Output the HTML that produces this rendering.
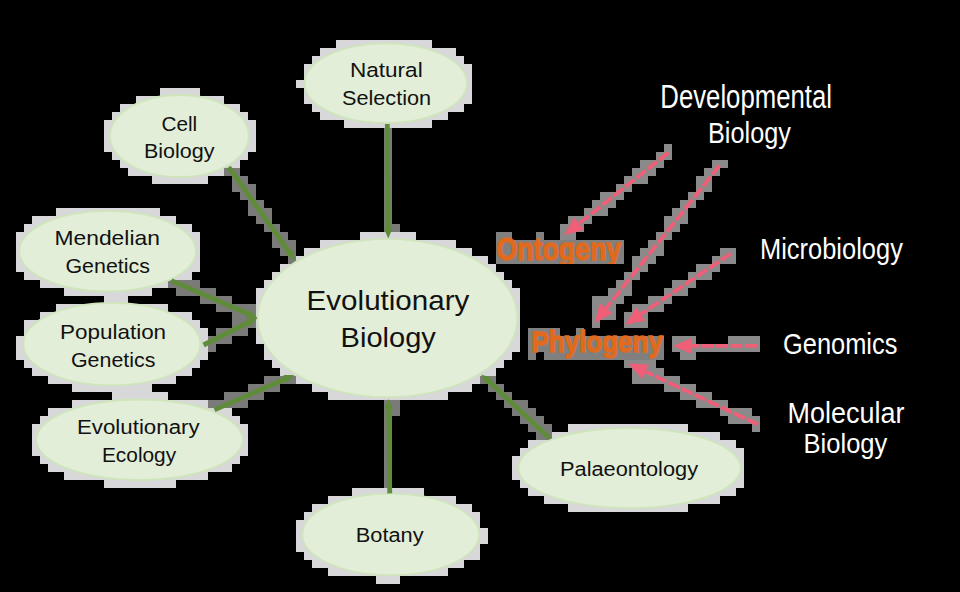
<!DOCTYPE html>
<html><head><meta charset="utf-8"><style>
html,body{margin:0;padding:0;background:#000;width:960px;height:592px;overflow:hidden}
svg{display:block;font-family:"Liberation Sans",sans-serif}
</style></head><body>
<svg width="960" height="592" viewBox="0 0 960 592">
<g shape-rendering="crispEdges"><rect x="336" y="40" width="96" height="8" fill="#d8d8da"/><rect x="320" y="48" width="136" height="8" fill="#d8d8da"/><rect x="312" y="56" width="152" height="8" fill="#d8d8da"/><rect x="304" y="64" width="168" height="8" fill="#d8d8da"/><rect x="304" y="72" width="168" height="8" fill="#d8d8da"/><rect x="296" y="80" width="176" height="8" fill="#d8d8da"/><rect x="160" y="88" width="40" height="8" fill="#d8d8da"/><rect x="304" y="88" width="168" height="8" fill="#d8d8da"/><rect x="136" y="96" width="88" height="8" fill="#d8d8da"/><rect x="304" y="96" width="168" height="8" fill="#d8d8da"/><rect x="120" y="104" width="120" height="8" fill="#d8d8da"/><rect x="312" y="104" width="152" height="8" fill="#d8d8da"/><rect x="112" y="112" width="136" height="8" fill="#d8d8da"/><rect x="320" y="112" width="128" height="8" fill="#d8d8da"/><rect x="104" y="120" width="152" height="8" fill="#d8d8da"/><rect x="344" y="120" width="88" height="8" fill="#d8d8da"/><rect x="104" y="128" width="152" height="8" fill="#d8d8da"/><rect x="384" y="128" width="8" height="8" fill="#7a7a78"/><rect x="104" y="136" width="152" height="8" fill="#d8d8da"/><rect x="384" y="136" width="8" height="8" fill="#7a7a78"/><rect x="104" y="144" width="152" height="8" fill="#d8d8da"/><rect x="384" y="144" width="8" height="8" fill="#7a7a78"/><rect x="664" y="144" width="8" height="8" fill="#8a8a8a"/><rect x="112" y="152" width="136" height="8" fill="#d8d8da"/><rect x="384" y="152" width="8" height="8" fill="#7a7a78"/><rect x="656" y="152" width="16" height="8" fill="#8a8a8a"/><rect x="120" y="160" width="120" height="8" fill="#d8d8da"/><rect x="384" y="160" width="8" height="8" fill="#7a7a78"/><rect x="640" y="160" width="24" height="8" fill="#8a8a8a"/><rect x="712" y="160" width="16" height="8" fill="#8a8a8a"/><rect x="128" y="168" width="96" height="8" fill="#d8d8da"/><rect x="224" y="168" width="16" height="8" fill="#7a7a78"/><rect x="384" y="168" width="8" height="8" fill="#7a7a78"/><rect x="632" y="168" width="24" height="8" fill="#8a8a8a"/><rect x="704" y="168" width="16" height="8" fill="#8a8a8a"/><rect x="152" y="176" width="56" height="8" fill="#d8d8da"/><rect x="232" y="176" width="16" height="8" fill="#7a7a78"/><rect x="384" y="176" width="8" height="8" fill="#7a7a78"/><rect x="624" y="176" width="24" height="8" fill="#8a8a8a"/><rect x="696" y="176" width="16" height="8" fill="#8a8a8a"/><rect x="232" y="184" width="24" height="8" fill="#7a7a78"/><rect x="384" y="184" width="8" height="8" fill="#7a7a78"/><rect x="616" y="184" width="16" height="8" fill="#8a8a8a"/><rect x="696" y="184" width="16" height="8" fill="#8a8a8a"/><rect x="240" y="192" width="16" height="8" fill="#7a7a78"/><rect x="384" y="192" width="8" height="8" fill="#7a7a78"/><rect x="600" y="192" width="24" height="8" fill="#8a8a8a"/><rect x="688" y="192" width="16" height="8" fill="#8a8a8a"/><rect x="248" y="200" width="16" height="8" fill="#7a7a78"/><rect x="384" y="200" width="8" height="8" fill="#7a7a78"/><rect x="592" y="200" width="24" height="8" fill="#8a8a8a"/><rect x="680" y="200" width="16" height="8" fill="#8a8a8a"/><rect x="56" y="208" width="104" height="8" fill="#d8d8da"/><rect x="248" y="208" width="24" height="8" fill="#7a7a78"/><rect x="384" y="208" width="8" height="8" fill="#7a7a78"/><rect x="584" y="208" width="24" height="8" fill="#8a8a8a"/><rect x="672" y="208" width="16" height="8" fill="#8a8a8a"/><rect x="32" y="216" width="144" height="8" fill="#d8d8da"/><rect x="256" y="216" width="16" height="8" fill="#7a7a78"/><rect x="384" y="216" width="8" height="8" fill="#7a7a78"/><rect x="568" y="216" width="24" height="8" fill="#8a8a8a"/><rect x="664" y="216" width="24" height="8" fill="#8a8a8a"/><rect x="24" y="224" width="168" height="8" fill="#d8d8da"/><rect x="264" y="224" width="16" height="8" fill="#7a7a78"/><rect x="384" y="224" width="16" height="8" fill="#7a7a78"/><rect x="560" y="224" width="24" height="8" fill="#8a8a8a"/><rect x="664" y="224" width="16" height="8" fill="#8a8a8a"/><rect x="16" y="232" width="184" height="8" fill="#d8d8da"/><rect x="272" y="232" width="16" height="8" fill="#7a7a78"/><rect x="360" y="232" width="56" height="8" fill="#d8d8da"/><rect x="496" y="232" width="16" height="8" fill="#808080"/><rect x="536" y="232" width="8" height="8" fill="#808080"/><rect x="560" y="232" width="16" height="8" fill="#8a8a8a"/><rect x="656" y="232" width="16" height="8" fill="#8a8a8a"/><rect x="16" y="240" width="184" height="8" fill="#d8d8da"/><rect x="272" y="240" width="24" height="8" fill="#7a7a78"/><rect x="320" y="240" width="136" height="8" fill="#d8d8da"/><rect x="496" y="240" width="128" height="8" fill="#808080"/><rect x="648" y="240" width="16" height="8" fill="#8a8a8a"/><rect x="16" y="248" width="184" height="8" fill="#d8d8da"/><rect x="280" y="248" width="16" height="8" fill="#7a7a78"/><rect x="304" y="248" width="168" height="8" fill="#d8d8da"/><rect x="496" y="248" width="128" height="8" fill="#808080"/><rect x="640" y="248" width="24" height="8" fill="#8a8a8a"/><rect x="720" y="248" width="16" height="8" fill="#8a8a8a"/><rect x="16" y="256" width="184" height="8" fill="#d8d8da"/><rect x="288" y="256" width="8" height="8" fill="#7a7a78"/><rect x="296" y="256" width="192" height="8" fill="#d8d8da"/><rect x="496" y="256" width="128" height="8" fill="#808080"/><rect x="632" y="256" width="24" height="8" fill="#8a8a8a"/><rect x="712" y="256" width="24" height="8" fill="#8a8a8a"/><rect x="16" y="264" width="184" height="8" fill="#d8d8da"/><rect x="280" y="264" width="216" height="8" fill="#d8d8da"/><rect x="632" y="264" width="16" height="8" fill="#8a8a8a"/><rect x="696" y="264" width="24" height="8" fill="#8a8a8a"/><rect x="24" y="272" width="168" height="8" fill="#d8d8da"/><rect x="272" y="272" width="232" height="8" fill="#d8d8da"/><rect x="624" y="272" width="16" height="8" fill="#8a8a8a"/><rect x="688" y="272" width="24" height="8" fill="#8a8a8a"/><rect x="40" y="280" width="128" height="8" fill="#d8d8da"/><rect x="168" y="280" width="32" height="8" fill="#7a7a78"/><rect x="264" y="280" width="248" height="8" fill="#d8d8da"/><rect x="616" y="280" width="16" height="8" fill="#8a8a8a"/><rect x="672" y="280" width="24" height="8" fill="#8a8a8a"/><rect x="64" y="288" width="88" height="8" fill="#d8d8da"/><rect x="176" y="288" width="40" height="8" fill="#7a7a78"/><rect x="256" y="288" width="264" height="8" fill="#d8d8da"/><rect x="608" y="288" width="24" height="8" fill="#8a8a8a"/><rect x="664" y="288" width="24" height="8" fill="#8a8a8a"/><rect x="104" y="296" width="24" height="8" fill="#d8d8da"/><rect x="200" y="296" width="32" height="8" fill="#7a7a78"/><rect x="256" y="296" width="264" height="8" fill="#d8d8da"/><rect x="592" y="296" width="32" height="8" fill="#8a8a8a"/><rect x="648" y="296" width="24" height="8" fill="#8a8a8a"/><rect x="56" y="304" width="112" height="8" fill="#d8d8da"/><rect x="216" y="304" width="40" height="8" fill="#7a7a78"/><rect x="256" y="304" width="264" height="8" fill="#d8d8da"/><rect x="592" y="304" width="24" height="8" fill="#8a8a8a"/><rect x="632" y="304" width="32" height="8" fill="#8a8a8a"/><rect x="40" y="312" width="152" height="8" fill="#d8d8da"/><rect x="232" y="312" width="24" height="8" fill="#7a7a78"/><rect x="256" y="312" width="264" height="8" fill="#d8d8da"/><rect x="592" y="312" width="24" height="8" fill="#8a8a8a"/><rect x="624" y="312" width="24" height="8" fill="#8a8a8a"/><rect x="24" y="320" width="176" height="8" fill="#d8d8da"/><rect x="232" y="320" width="24" height="8" fill="#7a7a78"/><rect x="256" y="320" width="264" height="8" fill="#d8d8da"/><rect x="592" y="320" width="8" height="8" fill="#8a8a8a"/><rect x="624" y="320" width="24" height="8" fill="#8a8a8a"/><rect x="24" y="328" width="184" height="8" fill="#d8d8da"/><rect x="216" y="328" width="32" height="8" fill="#7a7a78"/><rect x="256" y="328" width="264" height="8" fill="#d8d8da"/><rect x="528" y="328" width="32" height="8" fill="#808080"/><rect x="576" y="328" width="8" height="8" fill="#808080"/><rect x="16" y="336" width="192" height="8" fill="#d8d8da"/><rect x="208" y="336" width="24" height="8" fill="#7a7a78"/><rect x="256" y="336" width="264" height="8" fill="#d8d8da"/><rect x="528" y="336" width="136" height="8" fill="#808080"/><rect x="672" y="336" width="24" height="8" fill="#8a8a8a"/><rect x="728" y="336" width="32" height="8" fill="#8a8a8a"/><rect x="16" y="344" width="192" height="8" fill="#d8d8da"/><rect x="208" y="344" width="8" height="8" fill="#7a7a78"/><rect x="264" y="344" width="256" height="8" fill="#d8d8da"/><rect x="528" y="344" width="136" height="8" fill="#808080"/><rect x="672" y="344" width="88" height="8" fill="#8a8a8a"/><rect x="16" y="352" width="192" height="8" fill="#d8d8da"/><rect x="264" y="352" width="248" height="8" fill="#d8d8da"/><rect x="528" y="352" width="8" height="8" fill="#808080"/><rect x="544" y="352" width="120" height="8" fill="#808080"/><rect x="680" y="352" width="16" height="8" fill="#8a8a8a"/><rect x="24" y="360" width="176" height="8" fill="#d8d8da"/><rect x="272" y="360" width="232" height="8" fill="#d8d8da"/><rect x="624" y="360" width="32" height="8" fill="#8a8a8a"/><rect x="32" y="368" width="160" height="8" fill="#d8d8da"/><rect x="280" y="368" width="216" height="8" fill="#d8d8da"/><rect x="632" y="368" width="32" height="8" fill="#8a8a8a"/><rect x="48" y="376" width="128" height="8" fill="#d8d8da"/><rect x="264" y="376" width="32" height="8" fill="#7a7a78"/><rect x="296" y="376" width="184" height="8" fill="#d8d8da"/><rect x="480" y="376" width="16" height="8" fill="#7a7a78"/><rect x="632" y="376" width="48" height="8" fill="#8a8a8a"/><rect x="72" y="384" width="80" height="8" fill="#d8d8da"/><rect x="248" y="384" width="32" height="8" fill="#7a7a78"/><rect x="312" y="384" width="160" height="8" fill="#d8d8da"/><rect x="488" y="384" width="16" height="8" fill="#7a7a78"/><rect x="664" y="384" width="32" height="8" fill="#8a8a8a"/><rect x="112" y="392" width="56" height="8" fill="#d8d8da"/><rect x="224" y="392" width="40" height="8" fill="#7a7a78"/><rect x="328" y="392" width="120" height="8" fill="#d8d8da"/><rect x="496" y="392" width="16" height="8" fill="#7a7a78"/><rect x="680" y="392" width="32" height="8" fill="#8a8a8a"/><rect x="72" y="400" width="136" height="8" fill="#d8d8da"/><rect x="208" y="400" width="40" height="8" fill="#7a7a78"/><rect x="384" y="400" width="16" height="8" fill="#7a7a78"/><rect x="504" y="400" width="24" height="8" fill="#7a7a78"/><rect x="696" y="400" width="32" height="8" fill="#8a8a8a"/><rect x="48" y="408" width="184" height="8" fill="#d8d8da"/><rect x="384" y="408" width="16" height="8" fill="#7a7a78"/><rect x="512" y="408" width="24" height="8" fill="#7a7a78"/><rect x="720" y="408" width="32" height="8" fill="#8a8a8a"/><rect x="40" y="416" width="200" height="8" fill="#d8d8da"/><rect x="384" y="416" width="8" height="8" fill="#7a7a78"/><rect x="520" y="416" width="24" height="8" fill="#7a7a78"/><rect x="728" y="416" width="32" height="8" fill="#8a8a8a"/><rect x="32" y="424" width="216" height="8" fill="#d8d8da"/><rect x="384" y="424" width="8" height="8" fill="#7a7a78"/><rect x="528" y="424" width="24" height="8" fill="#7a7a78"/><rect x="568" y="424" width="120" height="8" fill="#d8d8da"/><rect x="752" y="424" width="8" height="8" fill="#8a8a8a"/><rect x="32" y="432" width="216" height="8" fill="#d8d8da"/><rect x="384" y="432" width="8" height="8" fill="#7a7a78"/><rect x="536" y="432" width="16" height="8" fill="#7a7a78"/><rect x="552" y="432" width="168" height="8" fill="#d8d8da"/><rect x="32" y="440" width="216" height="8" fill="#d8d8da"/><rect x="384" y="440" width="8" height="8" fill="#7a7a78"/><rect x="528" y="440" width="208" height="8" fill="#d8d8da"/><rect x="32" y="448" width="216" height="8" fill="#d8d8da"/><rect x="384" y="448" width="8" height="8" fill="#7a7a78"/><rect x="520" y="448" width="224" height="8" fill="#d8d8da"/><rect x="40" y="456" width="200" height="8" fill="#d8d8da"/><rect x="384" y="456" width="8" height="8" fill="#7a7a78"/><rect x="512" y="456" width="232" height="8" fill="#d8d8da"/><rect x="48" y="464" width="184" height="8" fill="#d8d8da"/><rect x="384" y="464" width="8" height="8" fill="#7a7a78"/><rect x="512" y="464" width="232" height="8" fill="#d8d8da"/><rect x="64" y="472" width="144" height="8" fill="#d8d8da"/><rect x="384" y="472" width="8" height="8" fill="#7a7a78"/><rect x="512" y="472" width="232" height="8" fill="#d8d8da"/><rect x="104" y="480" width="72" height="8" fill="#d8d8da"/><rect x="384" y="480" width="8" height="8" fill="#7a7a78"/><rect x="520" y="480" width="224" height="8" fill="#d8d8da"/><rect x="352" y="488" width="72" height="8" fill="#d8d8da"/><rect x="528" y="488" width="208" height="8" fill="#d8d8da"/><rect x="328" y="496" width="128" height="8" fill="#d8d8da"/><rect x="544" y="496" width="176" height="8" fill="#d8d8da"/><rect x="312" y="504" width="160" height="8" fill="#d8d8da"/><rect x="568" y="504" width="120" height="8" fill="#d8d8da"/><rect x="304" y="512" width="176" height="8" fill="#d8d8da"/><rect x="296" y="520" width="184" height="8" fill="#d8d8da"/><rect x="296" y="528" width="192" height="8" fill="#d8d8da"/><rect x="296" y="536" width="192" height="8" fill="#d8d8da"/><rect x="296" y="544" width="184" height="8" fill="#d8d8da"/><rect x="304" y="552" width="176" height="8" fill="#d8d8da"/><rect x="312" y="560" width="152" height="8" fill="#d8d8da"/><rect x="328" y="568" width="120" height="8" fill="#d8d8da"/><rect x="376" y="576" width="24" height="8" fill="#d8d8da"/></g>
<ellipse cx="385.75" cy="83.2" rx="81.25" ry="39.8" fill="#e2eed8" stroke="#cfe5bb" stroke-width="1.8"/>
<ellipse cx="179.4" cy="136" rx="69.4" ry="41" fill="#e2eed8" stroke="#cfe5bb" stroke-width="1.8"/>
<ellipse cx="107.65" cy="251.15" rx="88.25" ry="40.35" fill="#e2eed8" stroke="#cfe5bb" stroke-width="1.8"/>
<ellipse cx="111.8" cy="344.1" rx="88.5" ry="41.3" fill="#e2eed8" stroke="#cfe5bb" stroke-width="1.8"/>
<ellipse cx="139.55" cy="439.75" rx="103.25" ry="40.25" fill="#e2eed8" stroke="#cfe5bb" stroke-width="1.8"/>
<ellipse cx="387.5" cy="318" rx="130" ry="79.1" fill="#e2eed8" stroke="#cfe5bb" stroke-width="1.8"/>
<ellipse cx="629.55" cy="468.1" rx="111.25" ry="40.1" fill="#e2eed8" stroke="#cfe5bb" stroke-width="1.8"/>
<ellipse cx="390.7" cy="534.45" rx="88.4" ry="40.75" fill="#e2eed8" stroke="#cfe5bb" stroke-width="1.8"/>
<line x1="387.3" y1="124" x2="388.23" y2="230.6" stroke="#5e8c38" stroke-width="4.8"/>
<polygon points="388.3,238.6 383.96,228.64 392.46,228.56" fill="#5e8c38"/>
<line x1="228.7" y1="167.2" x2="290.56" y2="253.99" stroke="#5e8c38" stroke-width="4.8"/>
<polygon points="295.2,260.5 285.94,254.82 292.86,249.89" fill="#5e8c38"/>
<line x1="171.4" y1="280.6" x2="250.06" y2="314.72" stroke="#5e8c38" stroke-width="4.8"/>
<polygon points="257.4,317.9 246.53,317.82 249.92,310.02" fill="#5e8c38"/>
<line x1="203.6" y1="345" x2="250.26" y2="321.5" stroke="#5e8c38" stroke-width="4.8"/>
<polygon points="257.4,317.9 250.38,326.19 246.56,318.6" fill="#5e8c38"/>
<line x1="214.5" y1="409.9" x2="286.97" y2="378.21" stroke="#5e8c38" stroke-width="4.8"/>
<polygon points="294.3,375 286.84,382.9 283.43,375.11" fill="#5e8c38"/>
<line x1="549.7" y1="438.3" x2="487.15" y2="379.86" stroke="#5e8c38" stroke-width="4.8"/>
<polygon points="481.3,374.4 491.51,378.12 485.71,384.33" fill="#5e8c38"/>
<line x1="389.75" y1="493.4" x2="388.7" y2="407" stroke="#5e8c38" stroke-width="4.8"/>
<polygon points="388.6,399 392.97,408.95 384.47,409.05" fill="#5e8c38"/>
<line x1="668.5" y1="152.6" x2="577.52" y2="224.74" stroke="#ef5f78" stroke-width="3.8" stroke-dasharray="12 2.5"/>
<polygon points="564.2,235.3 574.12,217.23 584.06,229.76" fill="#ef5f78"/>
<line x1="719.5" y1="165.5" x2="604.97" y2="309.88" stroke="#ef5f78" stroke-width="3.8" stroke-dasharray="12 2.5"/>
<polygon points="594.4,323.2 599.94,303.34 612.48,313.29" fill="#ef5f78"/>
<line x1="731" y1="253.5" x2="639.11" y2="315.31" stroke="#ef5f78" stroke-width="3.8" stroke-dasharray="12 2.5"/>
<polygon points="625,324.8 636.3,307.56 645.23,320.83" fill="#ef5f78"/>
<line x1="757" y1="345.9" x2="690" y2="345.9" stroke="#ef5f78" stroke-width="3.8" stroke-dasharray="12 2.5"/>
<polygon points="673,345.9 692,337.9 692,353.9" fill="#ef5f78"/>
<line x1="758" y1="424.5" x2="643.59" y2="370.82" stroke="#ef5f78" stroke-width="3.8" stroke-dasharray="12 2.5"/>
<polygon points="628.2,363.6 648.8,364.43 642,378.91" fill="#ef5f78"/>
<clipPath id="oc"><rect x="480" y="200" width="200" height="64"/><rect x="480" y="320" width="200" height="40"/></clipPath><g clip-path="url(#oc)"><text x="496.48" y="259.8" font-size="30.43" fill="#e06a1e" font-weight="bold" stroke="#e06a1e" stroke-width="1.3" textLength="124.7" lengthAdjust="spacingAndGlyphs">Ontogeny</text>
<text x="531.51" y="351.8" font-size="29.71" fill="#e06a1e" font-weight="bold" stroke="#e06a1e" stroke-width="1.3" textLength="131.39" lengthAdjust="spacingAndGlyphs">Phylogeny</text></g>
<text x="349.95" y="77.35" font-size="21.09" fill="#111111" textLength="72.74" lengthAdjust="spacingAndGlyphs">Natural</text>
<text x="341.96" y="104.75" font-size="20.8" fill="#111111" textLength="89.17" lengthAdjust="spacingAndGlyphs">Selection</text>
<text x="161.45" y="130.5" font-size="21.01" fill="#111111" textLength="35.7" lengthAdjust="spacingAndGlyphs">Cell</text>
<text x="143.97" y="157.7" font-size="20.58" fill="#111111" textLength="70.63" lengthAdjust="spacingAndGlyphs">Biology</text>
<text x="54.48" y="245" font-size="20.43" fill="#111111" textLength="105.41" lengthAdjust="spacingAndGlyphs">Mendelian</text>
<text x="65.48" y="272.5" font-size="20.43" fill="#111111" textLength="84.38" lengthAdjust="spacingAndGlyphs">Genetics</text>
<text x="59.98" y="339" font-size="20.43" fill="#111111" textLength="106.14" lengthAdjust="spacingAndGlyphs">Population</text>
<text x="70.98" y="366.5" font-size="20.43" fill="#111111" textLength="84.38" lengthAdjust="spacingAndGlyphs">Genetics</text>
<text x="76.97" y="434" font-size="20.58" fill="#111111" textLength="122.65" lengthAdjust="spacingAndGlyphs">Evolutionary</text>
<text x="101.97" y="461.6" font-size="20.58" fill="#111111" textLength="74.16" lengthAdjust="spacingAndGlyphs">Ecology</text>
<text x="306.64" y="310.4" font-size="27.25" fill="#111111" textLength="162.68" lengthAdjust="spacingAndGlyphs">Evolutionary</text>
<text x="340.64" y="346.6" font-size="27.25" fill="#111111" textLength="95.17" lengthAdjust="spacingAndGlyphs">Biology</text>
<text x="559.97" y="475.5" font-size="20.58" fill="#111111" textLength="138.14" lengthAdjust="spacingAndGlyphs">Palaeontology</text>
<text x="355.71" y="542.1" font-size="20.72" fill="#111111" textLength="67.91" lengthAdjust="spacingAndGlyphs">Botany</text>
<text x="660.34" y="107.6" font-size="33.12" fill="#ffffff" textLength="171.66" lengthAdjust="spacingAndGlyphs">Developmental</text>
<text x="708.03" y="143.1" font-size="29.42" fill="#ffffff" textLength="82.85" lengthAdjust="spacingAndGlyphs">Biology</text>
<text x="760.01" y="258.8" font-size="29.71" fill="#ffffff" textLength="142.88" lengthAdjust="spacingAndGlyphs">Microbiology</text>
<text x="783.01" y="353.6" font-size="29.71" fill="#ffffff" textLength="114.37" lengthAdjust="spacingAndGlyphs">Genomics</text>
<text x="787.5" y="423" font-size="30" fill="#ffffff" textLength="116.9" lengthAdjust="spacingAndGlyphs">Molecular</text>
<text x="803.59" y="452.8" font-size="28.26" fill="#ffffff" textLength="83.76" lengthAdjust="spacingAndGlyphs">Biology</text>
</svg></body></html>
